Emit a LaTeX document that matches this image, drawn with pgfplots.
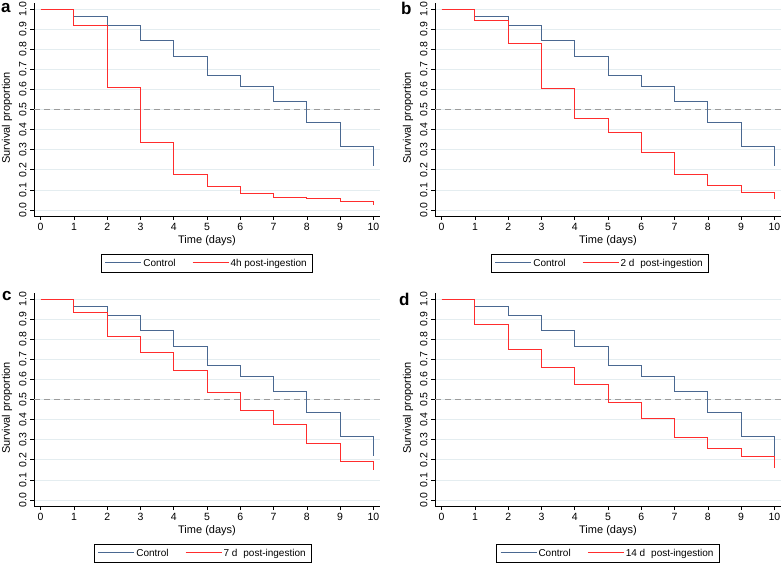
\documentclass[border=0pt]{standalone}
\usepackage{pgfplots}
\pgfplotsset{compat=1.18}
\usepackage{fontspec}
\setmainfont{Liberation Sans}
\definecolor{ctrl}{RGB}{74,104,145}
\definecolor{trt}{RGB}{255,45,45}
\definecolor{gridc}{RGB}{228,237,240}
\definecolor{dashc}{RGB}{155,155,155}
\pgfplotsset{
  km/.style={
    scale only axis,
    width=346pt, height=213pt,
    anchor=south west,
    xmin=-0.2, xmax=10.2, ymin=-0.03, ymax=1.03,
    axis lines=left,
    axis line style={-, black, line width=0.6pt},
    xtick={0,1,2,3,4,5,6,7,8,9,10},
    ytick={0,0.1,0.2,0.3,0.4,0.5,0.6,0.7,0.8,0.9,1},
    tick align=outside,
    major tick length=4pt,
    tick style={black, line width=0.6pt},
    ymajorgrids,
    grid style={gridc, line width=0.7pt},
    /pgf/number format/assume math mode=true,
    tick label style={font=\fontsize{10.5}{12}\selectfont},
    yticklabel style={rotate=90, anchor=south, /pgf/number format/.cd, fixed, fixed zerofill, precision=1},
    xticklabel style={/pgf/number format/.cd, fixed, precision=0},
    xlabel={Time (days)},
    ylabel={Survival proportion},
    xlabel style={font=\fontsize{11}{13}\selectfont, at={(axis description cs:0.5,0)}, anchor=center, yshift=-25pt},
    ylabel style={font=\fontsize{11}{13}\selectfont, at={(axis description cs:0,0.46)}, anchor=center, yshift=27pt},
    legend columns=2,
    legend style={at={(0.5,0)}, anchor=north, yshift=-38pt, draw=black, line width=0.6pt,
      font=\fontsize{10}{12}\selectfont, inner xsep=4pt, inner ysep=2.5pt,
      /tikz/every even column/.append style={column sep=15pt}},
    clip=false,
  },
  ctrlline/.style={color=ctrl, line width=1pt, const plot, no marks,
    legend image code/.code={\node[inner sep=0pt, anchor=west] at (0pt,0pt) {\textcolor{ctrl}{\rule[-0.5pt]{36pt}{1pt}}};}},
  trtline/.style={color=trt, line width=1pt, const plot, no marks,
    legend image code/.code={\node[inner sep=0pt, anchor=west] at (0pt,0pt) {\textcolor{trt}{\rule[-0.5pt]{36pt}{1pt}}};}},
}
\begin{document}
\begin{tikzpicture}
\path[use as bounding box] (0,0) rectangle (784pt,565pt);
% panel a
\begin{axis}[km, at={(34pt,349pt)}]
\addplot[dashc, line width=1pt, dash pattern=on 6pt off 4pt, forget plot] coordinates {(-0.2,0.5) (10.2,0.5)};
\addplot[ctrlline] coordinates {(0,1) (1,0.963) (2,0.919) (3,0.842) (4,0.763) (5,0.670) (6,0.615) (7,0.542) (8,0.433) (9,0.317) (10,0.221)};
\addlegendentry{Control}
\addplot[trtline] coordinates {(0,1) (1,0.919) (2,0.610) (3,0.337) (4,0.177) (5,0.116) (6,0.083) (7,0.063) (8,0.056) (9,0.040) (10,0.027)};
\addlegendentry{4h post-ingestion}
\end{axis}
% panel b
\begin{axis}[km, at={(435pt,349pt)}, legend style={xshift=-8pt}]
\addplot[dashc, line width=1pt, dash pattern=on 6pt off 4pt, forget plot] coordinates {(-0.2,0.5) (10.2,0.5)};
\addplot[ctrlline] coordinates {(0,1) (1,0.963) (2,0.919) (3,0.842) (4,0.763) (5,0.670) (6,0.615) (7,0.542) (8,0.433) (9,0.317) (10,0.221)};
\addlegendentry{Control}
\addplot[trtline] coordinates {(0,1) (1,0.944) (2,0.829) (3,0.605) (4,0.456) (5,0.385) (6,0.285) (7,0.177) (8,0.121) (9,0.086) (10,0.056)};
\addlegendentry{2 d\hspace{0.6em}post-ingestion}
\end{axis}
% panel c
\begin{axis}[km, at={(34pt,59pt)}, legend style={xshift=-4pt}]
\addplot[dashc, line width=1pt, dash pattern=on 6pt off 4pt, forget plot] coordinates {(-0.2,0.5) (10.2,0.5)};
\addplot[ctrlline] coordinates {(0,1) (1,0.963) (2,0.919) (3,0.842) (4,0.763) (5,0.670) (6,0.615) (7,0.542) (8,0.433) (9,0.317) (10,0.221)};
\addlegendentry{Control}
\addplot[trtline] coordinates {(0,1) (1,0.932) (2,0.815) (3,0.732) (4,0.642) (5,0.533) (6,0.444) (7,0.377) (8,0.280) (9,0.189) (10,0.149)};
\addlegendentry{7 d\hspace{0.6em}post-ingestion}
\end{axis}
% panel d
\begin{axis}[km, at={(435pt,59pt)}]
\addplot[dashc, line width=1pt, dash pattern=on 6pt off 4pt, forget plot] coordinates {(-0.2,0.5) (10.2,0.5)};
\addplot[ctrlline] coordinates {(0,1) (1,0.963) (2,0.919) (3,0.842) (4,0.763) (5,0.670) (6,0.615) (7,0.542) (8,0.433) (9,0.317) (10,0.221)};
\addlegendentry{Control}
\addplot[trtline] coordinates {(0,1) (1,0.874) (2,0.748) (3,0.659) (4,0.573) (5,0.487) (6,0.404) (7,0.311) (8,0.257) (9,0.214) (10,0.159)};
\addlegendentry{14 d\hspace{0.6em}post-ingestion}
\end{axis}
\node[anchor=base west, inner sep=0pt, font=\fontsize{17}{20}\selectfont\bfseries] at (1pt,552pt) {a};
\node[anchor=base west, inner sep=0pt, font=\fontsize{17}{20}\selectfont\bfseries] at (401pt,550pt) {b};
\node[anchor=base west, inner sep=0pt, font=\fontsize{17}{20}\selectfont\bfseries] at (2pt,264pt) {c};
\node[anchor=base west, inner sep=0pt, font=\fontsize{17}{20}\selectfont\bfseries] at (399pt,259pt) {d};
\end{tikzpicture}
\end{document}
